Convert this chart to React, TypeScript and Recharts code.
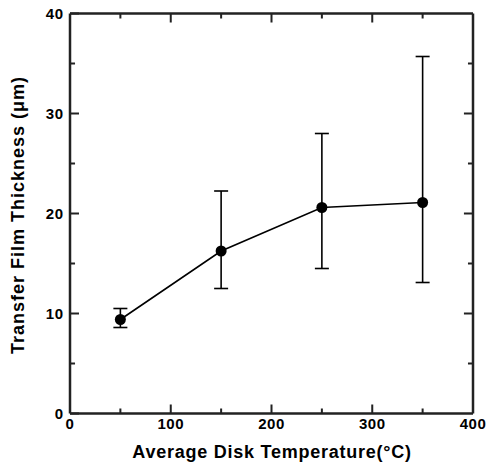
import { LineChart, Line, XAxis, YAxis, ErrorBar, ReferenceLine } from "recharts";

const temperatures = [50, 150, 250, 350];
const thickness = [9.4, 16.25, 20.6, 21.1];
const lowerBound = [8.6, 12.5, 14.5, 13.1];
const upperBound = [10.5, 22.25, 28.0, 35.7];

const xTicks = [0, 50, 100, 150, 200, 250, 300, 350, 400];
const yTicks = [0, 10, 20, 30, 40];
const yMinorTicks = [5, 15, 25, 35];

const xTitle = "Average Disk Temperature(°C)";
const yTitle = "Transfer Film Thickness (μm)";

const FONT = "'Liberation Sans', Arial, sans-serif";
const INK = "#222";
const PLOT_H = 400;

const data = temperatures.map((t, i) => ({
  temp: t,
  thickness: thickness[i],
  err: [thickness[i] - lowerBound[i], upperBound[i] - thickness[i]],
}));

function BottomTick({ x, y, payload }: any) {
  const v = Number(payload.value);
  const major = v % 100 === 0;
  const len = major ? 9 : 5;
  const edge = v === 0 || v === 400;
  return (
    <g>
      <rect x={Number(x) - 1} y={Number(y) - 4 - len} width={2} height={edge ? 0 : len} fill={INK} />
      <rect x={Number(x) - 1} y={Number(y) - 4 - PLOT_H} width={2} height={edge ? 0 : len} fill={INK} />
      <text x={x} y={y} dy={11} textAnchor="middle" fontFamily={FONT} fontWeight="bold" fontSize={15} letterSpacing={0.5} fill="#000">
        {major ? v : ""}
      </text>
    </g>
  );
}

const titleStyle: React.CSSProperties = {
  position: "absolute",
  fontFamily: FONT,
  fontWeight: "bold",
  fontSize: 18,
  color: "#000",
  whiteSpace: "nowrap",
  lineHeight: "20px",
};

export default function App() {
  return (
    <div style={{ position: "absolute", left: 0, top: 0, background: "#fff" }}>
      <LineChart
        width={487}
        height={467}
        data={data}
        margin={{ top: 13.5, right: 14, bottom: 0, left: 0 }}
      >
        <XAxis
          dataKey="temp"
          type="number"
          domain={[0, 400]}
          ticks={xTicks}
          interval={0}
          height={53.5}
          tickSize={0}
          tickMargin={4}
          tickLine={false}
          axisLine={{ stroke: INK, strokeWidth: 2.5 }}
          tick={<BottomTick />}
        />
        <YAxis
          type="number"
          domain={[0, 40]}
          ticks={yTicks}
          interval={0}
          width={70}
          tickSize={-9}
          tickMargin={15.5}
          tickLine={{ stroke: INK, strokeWidth: 2 }}
          axisLine={{ stroke: INK, strokeWidth: 2.5 }}
          tick={{ fontSize: 15, fontWeight: "bold", fill: "#000", fontFamily: FONT, letterSpacing: 0.5 }}
        />
        <ReferenceLine y={40} stroke={INK} strokeWidth={2.5} />
        <ReferenceLine x={400} stroke={INK} strokeWidth={2.5} />
        {yMinorTicks.map((t) => (
          <ReferenceLine key={`l${t}`} segment={[{ x: 0, y: t }, { x: 5, y: t }]} stroke={INK} strokeWidth={2} />
        ))}
        {yMinorTicks.map((t) => (
          <ReferenceLine key={`r${t}`} segment={[{ x: 400, y: t }, { x: 395, y: t }]} stroke={INK} strokeWidth={2} />
        ))}
        {yTicks.slice(1, -1).map((t) => (
          <ReferenceLine key={`R${t}`} segment={[{ x: 400, y: t }, { x: 391, y: t }]} stroke={INK} strokeWidth={2} />
        ))}
        <Line
          dataKey="thickness"
          stroke="#000"
          strokeWidth={1.6}
          dot={{ r: 5.5, fill: "#000", stroke: "#000", strokeWidth: 0 }}
          isAnimationActive={false}
        >
          <ErrorBar dataKey="err" direction="y" width={7} stroke="#000" strokeWidth={1.6} />
        </Line>
      </LineChart>
      <div style={{ ...titleStyle, left: 272, top: 442, transform: "translateX(-50%)", letterSpacing: 0.75 }}>
        {xTitle}
      </div>
      <div
        style={{
          ...titleStyle,
          left: 18,
          top: 215,
          transform: "translate(-50%, -50%) rotate(-90deg)",
          letterSpacing: 1,
        }}
      >
        {yTitle}
      </div>
    </div>
  );
}
